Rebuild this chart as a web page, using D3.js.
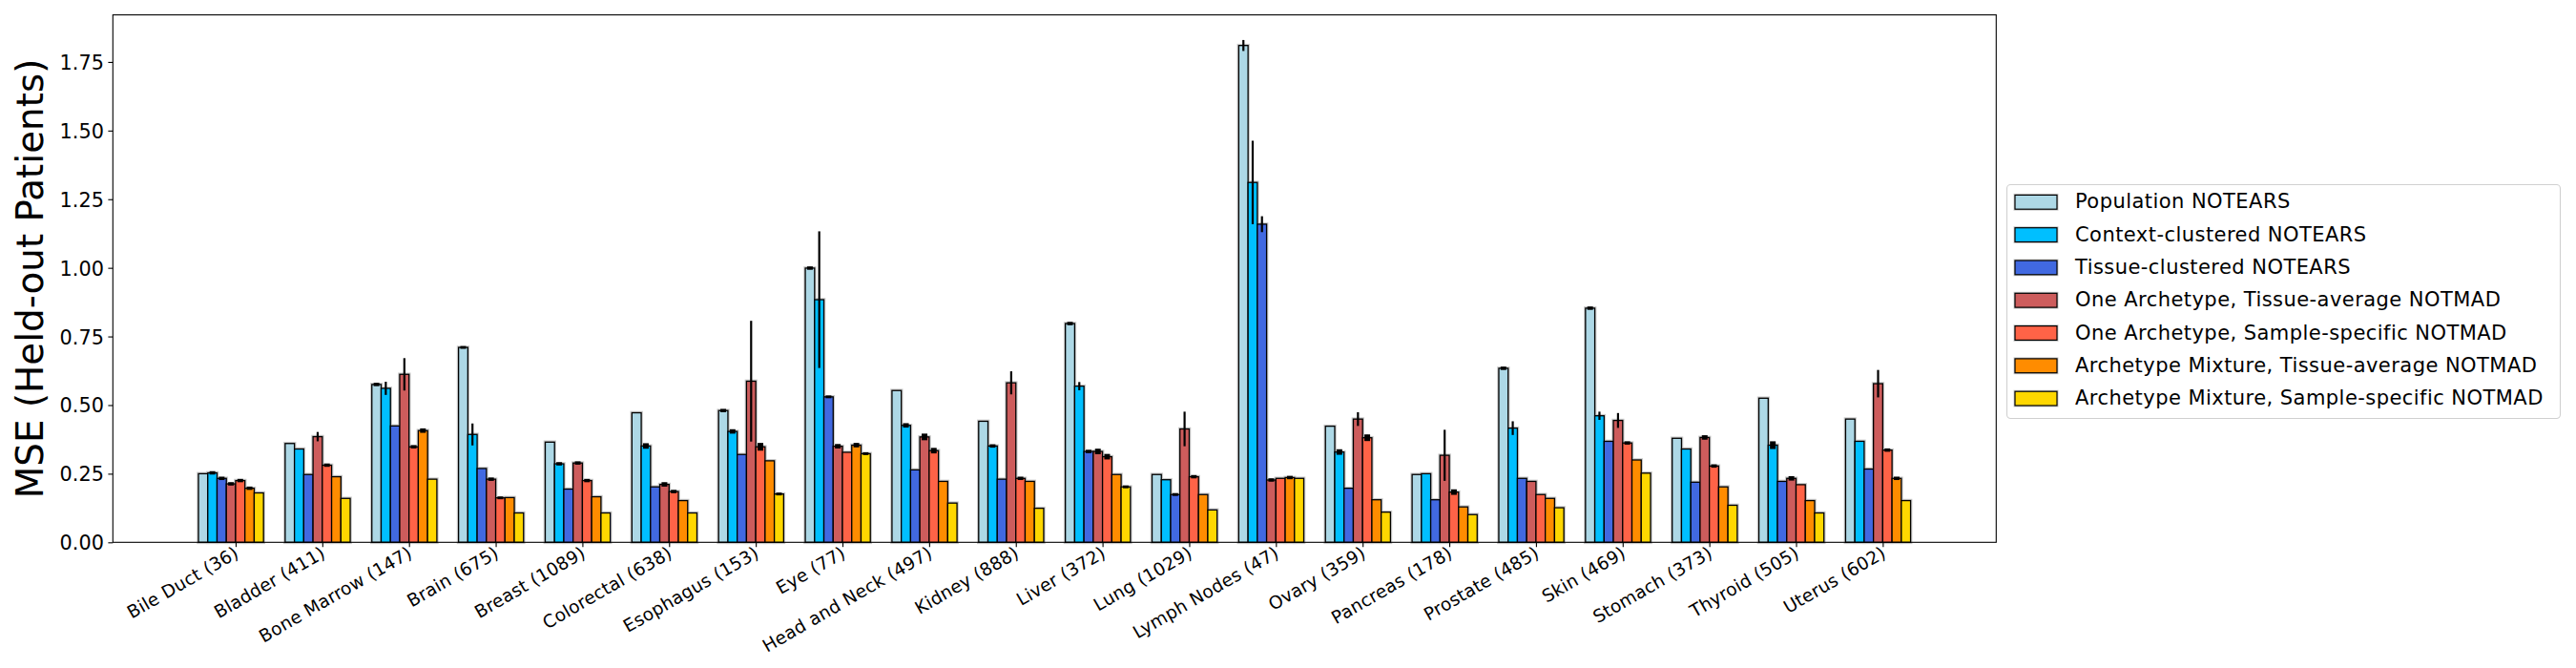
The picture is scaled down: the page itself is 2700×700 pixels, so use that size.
<!DOCTYPE html>
<html>
<head>
<meta charset="utf-8">
<script src="https://cdn.jsdelivr.net/npm/d3@7"></script>
<style>
  html, body { margin: 0; padding: 0; background: #ffffff; }
  svg { display: block; }
  text { font-family: "DejaVu Sans", sans-serif; }
</style>
</head>
<body>
<svg id="chart" width="2700" height="700"></svg>
<script>
// ---------------- data ----------------
const categories = ["Bile Duct (36)", "Bladder (411)", "Bone Marrow (147)", "Brain (675)", "Breast (1089)",
  "Colorectal (638)", "Esophagus (153)", "Eye (77)", "Head and Neck (497)", "Kidney (888)",
  "Liver (372)", "Lung (1029)", "Lymph Nodes (47)", "Ovary (359)", "Pancreas (178)",
  "Prostate (485)", "Skin (469)", "Stomach (373)", "Thyroid (505)", "Uterus (602)"];

const seriesNames = ["Population NOTEARS", "Context-clustered NOTEARS", "Tissue-clustered NOTEARS",
  "One Archetype, Tissue-average NOTMAD", "One Archetype, Sample-specific NOTMAD",
  "Archetype Mixture, Tissue-average NOTMAD", "Archetype Mixture, Sample-specific NOTMAD"];

const seriesColors = ["#ADD8E6", "#00BFFF", "#4169E1", "#CD5C5C", "#FF6347", "#FF8C00", "#FFD700"];

const popNotears = [0.250, 0.360, 0.575, 0.710, 0.365, 0.472, 0.480, 0.999, 0.553, 0.441, 0.797, 0.247, 1.810, 0.423, 0.247, 0.634, 0.853, 0.379, 0.525, 0.449];
const ctxNotears = [0.253, 0.340, 0.561, 0.393, 0.286, 0.351, 0.404, 0.884, 0.426, 0.351, 0.569, 0.228, 1.311, 0.329, 0.250, 0.416, 0.461, 0.340, 0.354, 0.368];
const tisNotears = [0.233, 0.247, 0.424, 0.269, 0.194, 0.202, 0.320, 0.530, 0.264, 0.230, 0.331, 0.174, 1.159, 0.197, 0.155, 0.233, 0.368, 0.219, 0.222, 0.267];
const oneArchTis = [0.213, 0.385, 0.612, 0.230, 0.289, 0.211, 0.587, 0.350, 0.384, 0.581, 0.331, 0.413, 0.227, 0.449, 0.317, 0.222, 0.444, 0.382, 0.233, 0.578];
const oneArchSam = [0.225, 0.281, 0.348, 0.162, 0.225, 0.185, 0.348, 0.328, 0.334, 0.233, 0.312, 0.239, 0.233, 0.381, 0.183, 0.174, 0.362, 0.278, 0.210, 0.336];
const mixTis     = [0.197, 0.239, 0.407, 0.163, 0.166, 0.152, 0.297, 0.354, 0.222, 0.222, 0.247, 0.174, 0.236, 0.155, 0.129, 0.160, 0.300, 0.202, 0.152, 0.233];
const mixSam     = [0.180, 0.160, 0.230, 0.107, 0.107, 0.107, 0.176, 0.323, 0.143, 0.124, 0.202, 0.118, 0.233, 0.110, 0.101, 0.126, 0.252, 0.135, 0.107, 0.152];

const popErr = [0, 0, 0.004, 0.003, 0, 0, 0.004, 0.004, 0, 0, 0.004, 0, 0.020, 0, 0, 0.004, 0.004, 0, 0, 0];
const ctxErr = [0.004, 0, 0.024, 0.040, 0.004, 0.008, 0.006, 0.249, 0.006, 0.004, 0.015, 0, 0.152, 0.008, 0, 0.025, 0.015, 0, 0.012, 0];
const tisErr = [0.004, 0, 0, 0, 0, 0, 0, 0.003, 0, 0, 0.004, 0.003, 0.029, 0, 0, 0, 0, 0, 0, 0];
const oatErr = [0.004, 0.017, 0.059, 0.004, 0.004, 0.006, 0.220, 0.006, 0.010, 0.042, 0.008, 0.063, 0.004, 0.025, 0.093, 0, 0.027, 0.006, 0.006, 0.050];
const oasErr = [0.004, 0.004, 0.004, 0.003, 0.004, 0.004, 0.012, 0, 0.008, 0.004, 0.008, 0.004, 0, 0.010, 0.008, 0, 0.004, 0.004, 0, 0.004];
const mtErr  = [0.004, 0, 0.006, 0, 0, 0, 0, 0.006, 0, 0, 0, 0, 0.004, 0, 0, 0, 0, 0, 0, 0.004];
const msErr  = [0, 0, 0, 0, 0, 0, 0.003, 0.003, 0, 0, 0.003, 0, 0, 0, 0, 0, 0, 0, 0, 0];

const yTickValues = [0, 0.25, 0.5, 0.75, 1.0, 1.25, 1.5, 1.75];
const yTickLabels = ["0.00", "0.25", "0.50", "0.75", "1.00", "1.25", "1.50", "1.75"];
const yLabel = "MSE (Held-out Patients)";

// ---------------- layout ----------------
const seriesValues = [popNotears, ctxNotears, tisNotears, oneArchTis, oneArchSam, mixTis, mixSam];
const seriesErrors = [popErr, ctxErr, tisErr, oatErr, oasErr, mtErr, msErr];
const nS = seriesValues.length;
const barW = 0.75 / nS;

const plot = { left: 118.3, right: 2092.3, top: 15.6, bottom: 568.3 };

const lo = -4 * barW, hi = (categories.length - 1) + 3 * barW;
const xm = 0.05 * (hi - lo);
const x = d3.scaleLinear().domain([lo - xm, hi + xm]).range([plot.left, plot.right]);

const ymaxData = d3.max(seriesValues.flatMap((vals, s) => vals.map((v, i) => v + seriesErrors[s][i])));
const y = d3.scaleLinear().domain([0, ymaxData * 1.05]).range([plot.bottom, plot.top]);

const svg = d3.select("#chart");
svg.append("rect").attr("width", 2700).attr("height", 700).attr("fill", "#ffffff");

const bars = [];
seriesValues.forEach((vals, s) => vals.forEach((v, i) => {
  bars.push({ s, i, v, e: seriesErrors[s][i], x0: i + (s - 4) * barW });
}));

const gBars = svg.append("g");
// faint halo behind bars
gBars.selectAll("rect.halo").data(bars).join("rect")
  .attr("class", "halo")
  .attr("x", d => x(d.x0))
  .attr("y", d => y(d.v))
  .attr("width", d => x(d.x0 + barW) - x(d.x0))
  .attr("height", d => y(0) - y(d.v))
  .attr("fill", "none")
  .attr("stroke", "#c9c9c9")
  .attr("stroke-width", 3.6);
gBars.selectAll("rect.bar").data(bars).join("rect")
  .attr("class", "bar")
  .attr("x", d => x(d.x0))
  .attr("y", d => y(d.v))
  .attr("width", d => x(d.x0 + barW) - x(d.x0))
  .attr("height", d => y(0) - y(d.v))
  .attr("fill", d => seriesColors[d.s])
  .attr("stroke", "#000")
  .attr("stroke-width", 1.3);

// error bars (plain vertical lines; very short ones read as a small dash)
const errs = bars.filter(d => d.e > 0);
const gErr = svg.append("g");
gErr.selectAll("line.err").data(errs).join("line")
  .attr("x1", d => x(d.x0 + barW / 2)).attr("x2", d => x(d.x0 + barW / 2))
  .attr("y1", d => y(d.v - d.e)).attr("y2", d => y(d.v + d.e))
  .attr("stroke", "#000").attr("stroke-width", 2.2);
const shortErrs = errs.filter(d => (y(d.v - d.e) - y(d.v + d.e)) < 8);
gErr.selectAll("rect.dash").data(shortErrs).join("rect")
  .attr("x", d => x(d.x0 + barW / 2) - 3)
  .attr("y", d => y(d.v + d.e) - 0.6)
  .attr("width", 6)
  .attr("height", d => Math.max(2, y(d.v - d.e) - y(d.v + d.e) + 1.2))
  .attr("fill", "#000");

// frame
svg.append("rect")
  .attr("x", plot.left).attr("y", plot.top)
  .attr("width", plot.right - plot.left).attr("height", plot.bottom - plot.top)
  .attr("fill", "none").attr("stroke", "#000").attr("stroke-width", 1.1);

// y axis
const yAxis = d3.axisLeft(y).tickValues(yTickValues)
  .tickFormat((d, k) => yTickLabels[k]).tickSizeInner(4.9).tickSizeOuter(0).tickPadding(4.5);
const gy = svg.append("g").attr("transform", `translate(${plot.left},0)`).call(yAxis);
gy.select(".domain").remove();
gy.selectAll(".tick line").attr("stroke", "#000").attr("stroke-width", 1.1);
gy.selectAll(".tick text").attr("font-size", "20.8px").attr("fill", "#000")
  .attr("font-family", "DejaVu Sans").attr("dy", "0.36em");

// x axis
const xTicks = categories.map((c, i) => i);
const xAxis = d3.axisBottom(x).tickValues(xTicks).tickFormat((d) => categories[d])
  .tickSizeInner(4.9).tickSizeOuter(0).tickPadding(0);
const gx = svg.append("g").attr("transform", `translate(0,${plot.bottom})`).call(xAxis);
gx.select(".domain").remove();
gx.selectAll(".tick line").attr("stroke", "#000").attr("stroke-width", 1.1);
gx.selectAll(".tick text")
  .attr("font-size", "18.6px").attr("fill", "#000").attr("font-family", "DejaVu Sans")
  .attr("letter-spacing", "0.2px")
  .attr("text-anchor", "end")
  .attr("y", 0).attr("dy", 0)
  .attr("transform", "translate(4,15) rotate(-30)");

// y label
svg.append("text")
  .attr("transform", `translate(45,${(plot.top + plot.bottom) / 2}) rotate(-90)`)
  .attr("text-anchor", "middle")
  .attr("font-size", "38.9px").attr("fill", "#000")
  .text(yLabel);

// legend
const leg = { x: 2103, y: 193, w: 580, h: 245, row0: 18.8, rowH: 34.3 };
const gl = svg.append("g").attr("transform", `translate(${leg.x},${leg.y})`);
gl.append("rect").attr("x", 0.5).attr("y", 0.5).attr("width", leg.w).attr("height", leg.h)
  .attr("rx", 4).attr("ry", 4)
  .attr("fill", "#ffffff").attr("fill-opacity", 0.8)
  .attr("stroke", "#d0d0d0").attr("stroke-width", 1.1);
const items = gl.selectAll("g.item").data(seriesNames).join("g")
  .attr("transform", (d, k) => `translate(0,${leg.row0 + k * leg.rowH})`);
items.append("rect").attr("x", 9).attr("y", -7.4).attr("width", 44).attr("height", 14.8)
  .attr("fill", "none").attr("stroke", "#c9c9c9").attr("stroke-width", 3);
items.append("rect").attr("x", 9).attr("y", -7.4).attr("width", 44).attr("height", 14.8)
  .attr("fill", (d, k) => seriesColors[k]).attr("stroke", "#000").attr("stroke-width", 1.2);
items.append("text").attr("x", 72).attr("y", 6.5)
  .attr("font-size", "21px").attr("fill", "#000")
  .attr("letter-spacing", "0.45px")
  .text(d => d);
</script>
</body>
</html>
